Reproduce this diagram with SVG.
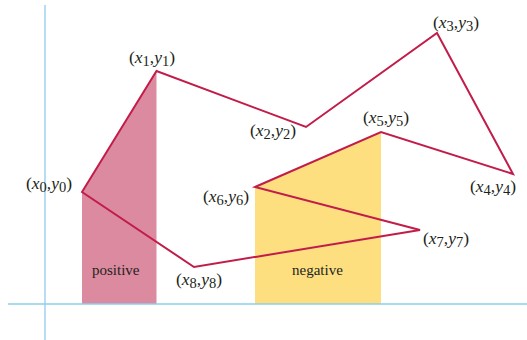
<svg xmlns="http://www.w3.org/2000/svg" width="527" height="340" viewBox="0 0 527 340">
<style>
.axis{stroke:#8ecdee;stroke-width:1.3;fill:none}
.edge{stroke:#c21d4a;stroke-width:2;fill:none;stroke-linejoin:miter}
.pos{fill:#dc8a9f}
.neg{fill:#fddf80}
.lbl{font-family:"Liberation Serif","Times New Roman",serif;font-size:17.5px;fill:#231f20}
.it{font-style:italic}
.sub{font-size:14.5px}
.area{font-family:"Liberation Serif","Times New Roman",serif;font-size:15px;fill:#231f20}
</style>
<rect width="527" height="340" fill="#ffffff"/>
<g id="regions">
<polygon class="pos" points="82,192 156.5,71 156.5,304 82,304"/>
<polygon class="neg" points="255,187 381,132 381,304 255,304"/>
<text class="area" x="92" y="275">positive</text>
<text class="area" x="292" y="275">negative</text>
</g>
<g id="axes">
<line class="axis" x1="45" y1="5" x2="45" y2="340"/>
<line class="axis" x1="8" y1="304" x2="527" y2="304"/>
</g>
<g id="connectors">
<polygon class="edge" points="82,192 156.5,71 306,127 437,33 513,174 381,132 255,187 420,230 194,267"/>
</g>
<g id="p0"><text class="lbl" x="26" y="189">(<tspan class="it">x</tspan><tspan class="sub" dy="2.5">0</tspan><tspan dy="-2.5">,</tspan><tspan class="it">y</tspan><tspan class="sub" dy="2.5">0</tspan><tspan dy="-2.5">)</tspan></text></g>
<g id="p1"><text class="lbl" x="129" y="63">(<tspan class="it">x</tspan><tspan class="sub" dy="2.5">1</tspan><tspan dy="-2.5">,</tspan><tspan class="it">y</tspan><tspan class="sub" dy="2.5">1</tspan><tspan dy="-2.5">)</tspan></text></g>
<g id="p2"><text class="lbl" x="250" y="136">(<tspan class="it">x</tspan><tspan class="sub" dy="2.5">2</tspan><tspan dy="-2.5">,</tspan><tspan class="it">y</tspan><tspan class="sub" dy="2.5">2</tspan><tspan dy="-2.5">)</tspan></text></g>
<g id="p3"><text class="lbl" x="433" y="28">(<tspan class="it">x</tspan><tspan class="sub" dy="2.5">3</tspan><tspan dy="-2.5">,</tspan><tspan class="it">y</tspan><tspan class="sub" dy="2.5">3</tspan><tspan dy="-2.5">)</tspan></text></g>
<g id="p4"><text class="lbl" x="470" y="192">(<tspan class="it">x</tspan><tspan class="sub" dy="2.5">4</tspan><tspan dy="-2.5">,</tspan><tspan class="it">y</tspan><tspan class="sub" dy="2.5">4</tspan><tspan dy="-2.5">)</tspan></text></g>
<g id="p5"><text class="lbl" x="363" y="123">(<tspan class="it">x</tspan><tspan class="sub" dy="2.5">5</tspan><tspan dy="-2.5">,</tspan><tspan class="it">y</tspan><tspan class="sub" dy="2.5">5</tspan><tspan dy="-2.5">)</tspan></text></g>
<g id="p6"><text class="lbl" x="203" y="202">(<tspan class="it">x</tspan><tspan class="sub" dy="2.5">6</tspan><tspan dy="-2.5">,</tspan><tspan class="it">y</tspan><tspan class="sub" dy="2.5">6</tspan><tspan dy="-2.5">)</tspan></text></g>
<g id="p7"><text class="lbl" x="423" y="244">(<tspan class="it">x</tspan><tspan class="sub" dy="2.5">7</tspan><tspan dy="-2.5">,</tspan><tspan class="it">y</tspan><tspan class="sub" dy="2.5">7</tspan><tspan dy="-2.5">)</tspan></text></g>
<g id="p8"><text class="lbl" x="176" y="285">(<tspan class="it">x</tspan><tspan class="sub" dy="2.5">8</tspan><tspan dy="-2.5">,</tspan><tspan class="it">y</tspan><tspan class="sub" dy="2.5">8</tspan><tspan dy="-2.5">)</tspan></text></g>
</svg>
